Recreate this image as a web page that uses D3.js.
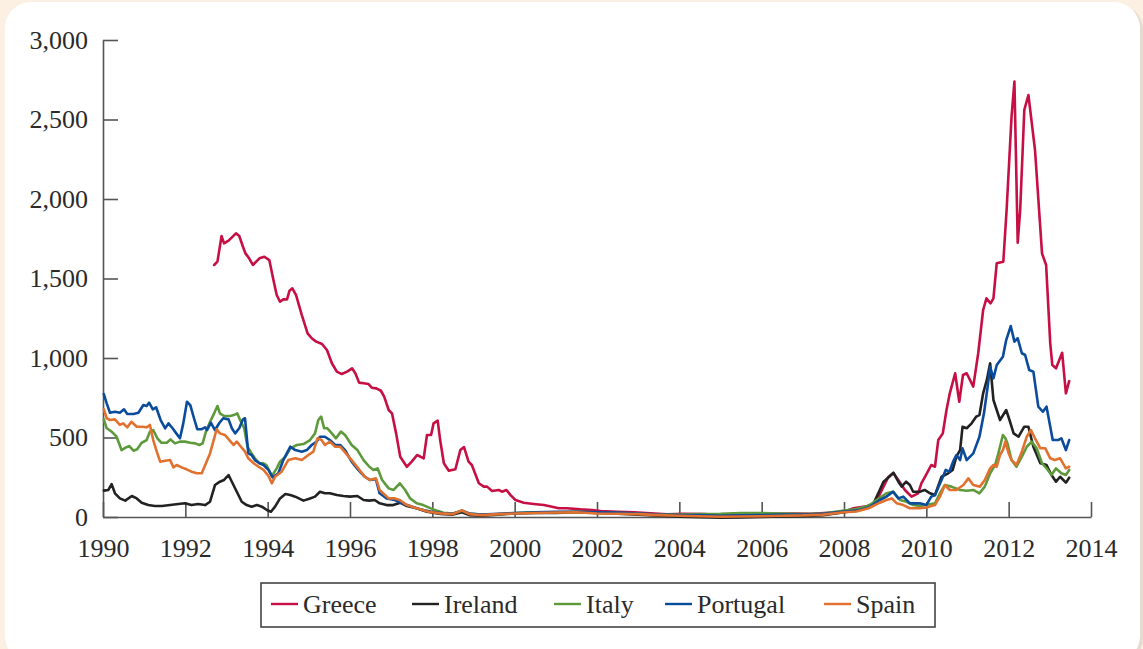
<!DOCTYPE html>
<html>
<head>
<meta charset="utf-8">
<script src="https://cdn.jsdelivr.net/npm/d3@7"></script>
<style>
  html, body { margin: 0; padding: 0; background: #fcf0e2; }
  svg { display: block; }
</style>
</head>
<body>
<svg id="chart" width="1143" height="649"></svg>
<script>
// Government bond spreads over Germany (basis points), monthly readings, 1990–mid 2013
const countries = ["Greece", "Ireland", "Italy", "Portugal", "Spain"];
const colors = ["#c60f44", "#222222", "#5e9a3b", "#0b4b9b", "#e2712f"];
const xTicks = [1990, 1992, 1994, 1996, 1998, 2000, 2002, 2004, 2006, 2008, 2010, 2012, 2014];
const yTicks = [0, 500, 1000, 1500, 2000, 2500, 3000];

const greece = [
  [1992.70,1585],[1992.78,1606],[1992.88,1767],[1992.94,1721],[1993.05,1738],[1993.23,1784],[1993.31,1767],
  [1993.40,1700],[1993.46,1658],[1993.55,1627],[1993.64,1585],[1993.80,1627],[1993.92,1637],[1994.04,1616],
  [1994.14,1490],[1994.22,1396],[1994.30,1354],[1994.38,1369],[1994.47,1369],[1994.53,1423],[1994.60,1438],
  [1994.69,1396],[1994.83,1270],[1994.97,1155],[1995.07,1124],[1995.18,1103],[1995.32,1088],[1995.44,1050],
  [1995.56,967],[1995.68,914],[1995.80,899],[1995.93,914],[1996.05,935],[1996.13,904],[1996.22,845],
  [1996.33,841],[1996.45,836],[1996.53,813],[1996.64,809],[1996.75,794],[1996.83,757],[1996.94,673],
  [1997.02,652],[1997.12,526],[1997.22,379],[1997.38,316],[1997.50,348],[1997.63,390],[1997.79,369],
  [1997.87,516],[1997.97,516],[1998.03,589],[1998.13,606],[1998.19,484],[1998.28,338],[1998.40,291],
  [1998.56,300],[1998.68,421],[1998.77,440],[1998.88,348],[1998.96,327],[1999.13,212],[1999.25,191],
  [1999.33,191],[1999.45,164],[1999.61,170],[1999.69,159],[1999.80,170],[1999.90,138],[2000.02,107],
  [2000.22,90],[2000.46,82],[2000.71,75],[2000.91,65],[2001.07,55],[2001.27,55],[2001.60,48],[2001.88,44],
  [2002.09,38],[2002.49,33],[2002.90,29],[2003.30,23],[2003.70,17],[2004.10,20],[2004.60,18],[2005.00,12],
  [2005.40,22],[2005.80,18],[2006.30,20],[2006.80,22],[2007.20,20],[2007.42,23],[2008.00,33],[2008.23,55],
  [2008.47,65],[2008.72,75],[2008.84,128],[2008.96,191],[2009.08,253],[2009.20,275],[2009.32,233],
  [2009.48,170],[2009.64,128],[2009.80,149],[2009.88,212],[2009.99,264],[2010.12,327],[2010.21,316],
  [2010.29,484],[2010.40,526],[2010.49,673],[2010.57,778],[2010.70,904],[2010.80,725],[2010.89,893],
  [2010.98,904],[2011.14,820],[2011.26,1030],[2011.38,1302],[2011.46,1375],[2011.56,1344],[2011.63,1375],
  [2011.71,1596],[2011.87,1606],[2011.95,1931],[2012.07,2518],[2012.14,2738],[2012.22,1725],[2012.28,1931],
  [2012.38,2560],[2012.48,2654],[2012.64,2308],[2012.81,1658],[2012.91,1585],[2013.01,1092],[2013.06,956],
  [2013.15,935],[2013.30,1033],[2013.39,778],[2013.47,855]
];

const ireland = [
  [1990.02,166],[1990.13,170],[1990.21,207],[1990.29,149],[1990.41,117],[1990.54,103],[1990.70,132],
  [1990.82,117],[1990.94,90],[1991.10,75],[1991.26,69],[1991.43,69],[1991.63,75],[1991.83,82],[1991.99,86],
  [1992.15,75],[1992.31,82],[1992.48,75],[1992.60,96],[1992.72,201],[1992.84,222],[1992.94,233],[1993.05,264],
  [1993.13,222],[1993.25,159],[1993.37,96],[1993.49,75],[1993.61,65],[1993.74,75],[1993.86,65],[1993.98,44],
  [1994.08,33],[1994.18,65],[1994.30,117],[1994.43,145],[1994.55,138],[1994.67,128],[1994.87,103],
  [1995.03,117],[1995.15,128],[1995.27,159],[1995.39,149],[1995.51,149],[1995.68,138],[1995.84,132],
  [1996.00,128],[1996.18,132],[1996.33,107],[1996.47,103],[1996.60,107],[1996.72,86],[1996.89,75],
  [1997.05,75],[1997.22,90],[1997.38,69],[1997.62,55],[1997.87,33],[1998.20,19],[1998.50,15],[1998.72,30],
  [1998.90,12],[1999.20,8],[1999.60,15],[2000.00,22],[2000.50,25],[2001.00,25],[2001.50,30],[2002.00,25],
  [2002.50,20],[2003.00,15],[2003.50,8],[2004.00,2],[2004.50,-2],[2005.00,-5],[2005.50,-3],[2006.00,0],
  [2006.50,3],[2007.00,5],[2007.50,12],[2008.00,30],[2008.30,40],[2008.50,60],[2008.72,86],[2008.96,222],
  [2009.10,253],[2009.20,279],[2009.32,222],[2009.40,191],[2009.51,222],[2009.60,201],[2009.68,159],
  [2009.84,159],[2009.96,170],[2010.09,149],[2010.21,138],[2010.37,253],[2010.53,275],[2010.64,296],
  [2010.73,379],[2010.82,421],[2010.88,568],[2010.98,558],[2011.10,589],[2011.21,631],[2011.29,641],
  [2011.38,778],[2011.47,862],[2011.55,967],[2011.63,736],[2011.71,673],[2011.79,610],[2011.94,673],
  [2012.02,610],[2012.12,526],[2012.24,505],[2012.38,568],[2012.48,568],[2012.60,442],[2012.77,338],
  [2012.92,327],[2013.04,264],[2013.15,222],[2013.25,253],[2013.39,216],[2013.47,247]
];

const italy = [
  [1990.02,614],[1990.09,558],[1990.21,537],[1990.33,505],[1990.45,421],[1990.56,438],[1990.64,446],
  [1990.74,417],[1990.83,426],[1990.94,467],[1991.06,484],[1991.14,537],[1991.22,547],[1991.32,495],
  [1991.42,467],[1991.55,467],[1991.64,488],[1991.75,463],[1991.87,474],[1991.99,474],[1992.12,467],
  [1992.24,463],[1992.34,453],[1992.42,463],[1992.50,537],[1992.60,599],[1992.70,652],[1992.78,698],
  [1992.84,652],[1992.94,635],[1993.09,635],[1993.18,641],[1993.26,652],[1993.33,610],[1993.43,558],
  [1993.51,442],[1993.61,400],[1993.69,369],[1993.80,338],[1993.90,338],[1993.97,327],[1994.10,258],
  [1994.22,306],[1994.30,348],[1994.43,379],[1994.55,432],[1994.71,453],[1994.87,459],[1995.03,484],
  [1995.15,526],[1995.23,610],[1995.30,631],[1995.37,558],[1995.45,558],[1995.56,526],[1995.66,495],
  [1995.78,537],[1995.88,516],[1996.04,453],[1996.18,421],[1996.33,358],[1996.47,316],[1996.57,296],
  [1996.67,306],[1996.78,233],[1996.94,180],[1997.06,170],[1997.21,212],[1997.34,170],[1997.46,117],
  [1997.62,86],[1997.78,75],[1998.02,48],[1998.27,27],[1998.50,22],[1998.72,40],[1998.90,20],[1999.20,15],
  [1999.60,18],[2000.00,25],[2000.50,28],[2001.00,30],[2001.50,32],[2002.00,30],[2002.50,25],[2003.00,20],
  [2003.50,15],[2004.00,15],[2004.50,18],[2005.00,20],[2005.50,25],[2006.00,25],[2006.50,22],[2007.00,18],
  [2007.50,22],[2008.00,40],[2008.30,50],[2008.60,70],[2008.87,120],[2009.03,149],[2009.20,159],
  [2009.36,107],[2009.52,96],[2009.68,75],[2009.84,70],[2010.00,75],[2010.21,86],[2010.33,149],
  [2010.45,201],[2010.61,191],[2010.82,170],[2010.98,165],[2011.14,170],[2011.29,149],[2011.42,191],
  [2011.55,275],[2011.67,327],[2011.75,400],[2011.86,516],[2011.92,495],[2011.97,463],[2012.07,358],
  [2012.19,316],[2012.32,379],[2012.44,442],[2012.56,474],[2012.68,432],[2012.81,338],[2012.92,306],
  [2013.04,264],[2013.15,306],[2013.28,275],[2013.39,264],[2013.47,296]
];

const portugal = [
  [1990.02,773],[1990.09,715],[1990.17,656],[1990.29,662],[1990.41,656],[1990.51,677],[1990.59,648],
  [1990.74,648],[1990.86,656],[1990.98,704],[1991.06,698],[1991.12,719],[1991.21,677],[1991.29,690],
  [1991.40,610],[1991.51,558],[1991.59,589],[1991.69,558],[1991.78,526],[1991.87,495],[1991.95,589],
  [1992.04,725],[1992.12,704],[1992.21,621],[1992.29,552],[1992.40,552],[1992.48,564],[1992.53,547],
  [1992.62,593],[1992.72,547],[1992.83,593],[1992.92,621],[1993.05,614],[1993.13,558],[1993.21,526],
  [1993.31,558],[1993.40,614],[1993.45,621],[1993.53,400],[1993.61,390],[1993.69,358],[1993.80,338],
  [1993.90,327],[1994.02,296],[1994.12,249],[1994.26,275],[1994.38,358],[1994.55,442],[1994.67,421],
  [1994.83,411],[1994.95,421],[1995.07,453],[1995.19,474],[1995.27,505],[1995.39,505],[1995.51,484],
  [1995.64,453],[1995.76,453],[1995.88,421],[1996.04,348],[1996.20,296],[1996.36,253],[1996.48,233],
  [1996.63,237],[1996.72,149],[1996.89,117],[1997.09,107],[1997.26,86],[1997.46,69],[1997.70,48],
  [1997.98,33],[1998.27,23],[1998.50,20],[1998.72,40],[1998.90,22],[1999.20,15],[1999.60,20],[2000.00,25],
  [2000.50,30],[2001.00,33],[2001.50,33],[2002.00,30],[2002.50,28],[2003.00,22],[2003.50,15],[2004.00,12],
  [2004.50,12],[2005.00,8],[2005.50,10],[2006.00,12],[2006.50,15],[2007.00,15],[2007.50,20],[2008.00,35],
  [2008.30,40],[2008.60,60],[2008.87,107],[2009.03,128],[2009.19,159],[2009.32,117],[2009.44,128],
  [2009.60,86],[2009.84,86],[2010.00,75],[2010.12,128],[2010.21,138],[2010.37,233],[2010.47,296],
  [2010.56,285],[2010.65,348],[2010.73,390],[2010.82,358],[2010.88,432],[2010.98,358],[2011.14,400],
  [2011.29,505],[2011.40,652],[2011.49,820],[2011.55,945],[2011.63,872],[2011.71,956],[2011.86,1008],
  [2011.94,1113],[2012.05,1201],[2012.14,1103],[2012.22,1124],[2012.32,1030],[2012.40,1019],[2012.50,924],
  [2012.60,914],[2012.72,694],[2012.83,662],[2012.92,694],[2013.07,484],[2013.20,484],[2013.28,495],
  [2013.39,421],[2013.47,484]
];

const spain = [
  [1990.02,677],[1990.09,621],[1990.17,610],[1990.29,614],[1990.41,579],[1990.49,589],[1990.59,564],
  [1990.69,599],[1990.82,568],[1990.94,568],[1991.06,564],[1991.14,579],[1991.22,484],[1991.32,400],
  [1991.39,348],[1991.51,354],[1991.63,358],[1991.71,312],[1991.79,327],[1991.91,312],[1992.03,300],
  [1992.15,285],[1992.28,275],[1992.40,275],[1992.50,338],[1992.60,400],[1992.70,495],[1992.76,552],
  [1992.84,526],[1992.96,516],[1993.07,484],[1993.17,453],[1993.25,474],[1993.35,442],[1993.45,411],
  [1993.53,369],[1993.66,338],[1993.78,316],[1993.90,296],[1994.02,258],[1994.10,212],[1994.18,253],
  [1994.34,285],[1994.50,358],[1994.67,369],[1994.83,358],[1994.99,390],[1995.11,411],[1995.21,495],
  [1995.31,484],[1995.39,453],[1995.51,474],[1995.64,442],[1995.76,442],[1995.90,400],[1996.04,358],
  [1996.20,306],[1996.36,253],[1996.48,233],[1996.63,243],[1996.72,170],[1996.94,117],[1997.09,117],
  [1997.21,107],[1997.38,75],[1997.62,55],[1997.91,33],[1998.20,23],[1998.50,18],[1998.72,42],[1998.90,18],
  [1999.20,12],[1999.60,18],[2000.00,22],[2000.50,25],[2001.00,28],[2001.50,30],[2002.00,22],[2002.50,20],
  [2003.00,18],[2003.50,12],[2004.00,8],[2004.50,5],[2005.00,2],[2005.50,3],[2006.00,5],[2006.50,8],
  [2007.00,10],[2007.50,15],[2008.00,30],[2008.30,35],[2008.60,55],[2008.87,90],[2009.03,107],[2009.16,117],
  [2009.28,86],[2009.44,75],[2009.60,55],[2009.84,55],[2010.00,60],[2010.21,75],[2010.33,128],[2010.45,201],
  [2010.57,170],[2010.73,170],[2010.90,201],[2011.02,243],[2011.14,201],[2011.30,191],[2011.42,233],
  [2011.55,306],[2011.63,327],[2011.71,316],[2011.79,390],[2011.86,421],[2011.92,474],[2012.00,400],
  [2012.07,358],[2012.19,327],[2012.32,411],[2012.44,505],[2012.54,547],[2012.64,495],[2012.77,432],
  [2012.89,432],[2013.01,369],[2013.12,358],[2013.25,369],[2013.39,306],[2013.47,316]
];

const seriesData = [greece, ireland, italy, portugal, spain];

const svg = d3.select("#chart");
const W = 1143, H = 649;
const fontFamily = "'Liberation Serif', 'Times New Roman', serif";

// card background with rounded corners and a faint right-edge shadow
svg.append("rect").attr("x", 0).attr("y", 0).attr("width", W).attr("height", H).attr("fill", "#fcf0e2");
svg.append("rect").attr("x", 7).attr("y", 4).attr("width", 1136).attr("height", 660)
  .attr("rx", 26).attr("fill", "#e4dccf");
svg.append("rect").attr("x", 5).attr("y", 2).attr("width", 1135).attr("height", 660)
  .attr("rx", 26).attr("fill", "#ffffff");

const x = d3.scaleLinear().domain([1990, 2014]).range([103, 1091]);
const y = d3.scaleLinear().domain([0, 3000]).range([517, 40]);

// y axis: ticks point into the plot
const yAxis = svg.append("g").attr("transform", "translate(103,0)")
  .call(d3.axisLeft(y).tickValues(yTicks).tickFormat(d3.format(",")).tickSize(-15).tickSizeOuter(0).tickPadding(15));

// x axis: ticks point upward
const xAxis = svg.append("g").attr("transform", "translate(0,517)")
  .call(d3.axisBottom(x).tickValues(xTicks).tickFormat(d3.format("d")).tickSize(-15).tickSizeOuter(0).tickPadding(22));

[yAxis, xAxis].forEach(g => {
  g.select(".domain").attr("stroke", "#555").attr("stroke-width", 1.6);
  g.selectAll(".tick line").attr("stroke", "#555").attr("stroke-width", 1.6);
  g.selectAll(".tick text").attr("fill", "#2a2a2a").style("font-family", fontFamily).style("font-size", "26px");
});

// series lines
const line = d3.line().x(d => x(d[0])).y(d => y(d[1])).curve(d3.curveLinear);
const plot = svg.append("g");
seriesData.forEach((data, i) => {
  plot.append("path")
    .datum(data)
    .attr("d", line)
    .attr("fill", "none")
    .attr("stroke", colors[i])
    .attr("stroke-width", 2.6)
    .attr("stroke-linejoin", "round")
    .attr("stroke-linecap", "round");
});

// legend
const legendBox = { x: 261, y: 583, w: 674, h: 44 };
const legendStarts = [271, 412, 554, 665, 824];
const legend = svg.append("g");
legend.append("rect")
  .attr("x", legendBox.x).attr("y", legendBox.y)
  .attr("width", legendBox.w).attr("height", legendBox.h)
  .attr("fill", "#fff").attr("stroke", "#444").attr("stroke-width", 1.6);
countries.forEach((name, i) => {
  const lx = legendStarts[i];
  legend.append("line")
    .attr("x1", lx).attr("x2", lx + 27)
    .attr("y1", 604).attr("y2", 604)
    .attr("stroke", colors[i]).attr("stroke-width", 2.4);
  legend.append("text")
    .attr("x", lx + 32).attr("y", 613)
    .attr("fill", "#2a2a2a")
    .style("font-family", fontFamily).style("font-size", "26px")
    .text(name);
});
</script>
</body>
</html>
